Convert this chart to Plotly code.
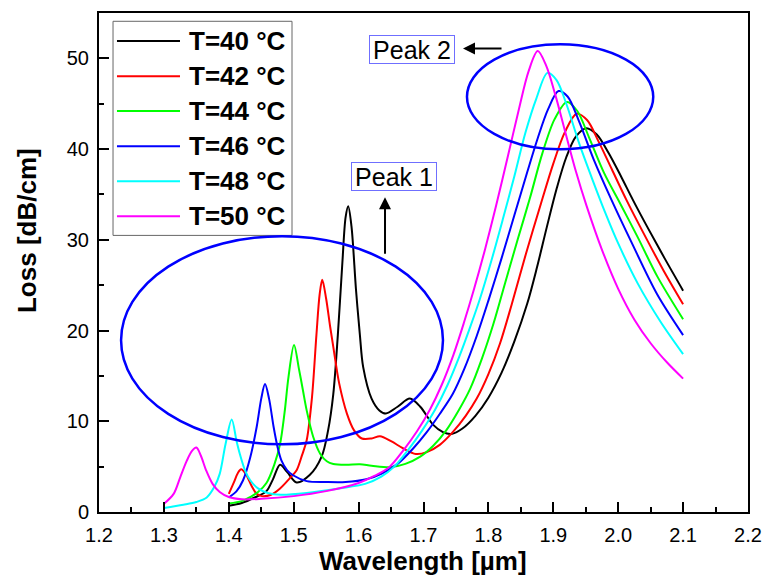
import plotly.graph_objects as go

FONT = "Arial, 'Liberation Sans', Helvetica, sans-serif"

# ---- series: wavelength [um] and loss [dB/cm] for each temperature ----
labels = ["T=40 °C", "T=42 °C", "T=44 °C", "T=46 °C", "T=48 °C", "T=50 °C"]
colors = ["#000000", "#ff0000", "#00ff00", "#0000ff", "#00ffff", "#ff00ff"]

wl_T40 = [1.400, 1.420, 1.440, 1.458, 1.468, 1.479, 1.490, 1.5045, 1.525, 1.543,
          1.553, 1.561, 1.568, 1.575, 1.580, 1.584, 1.589, 1.596, 1.602, 1.607,
          1.620, 1.632, 1.642, 1.660, 1.679, 1.695, 1.715, 1.730, 1.743, 1.760,
          1.780, 1.800, 1.820, 1.840, 1.860, 1.875, 1.890, 1.905, 1.920, 1.935,
          1.951, 1.967, 1.985, 2.005, 2.023, 2.045, 2.072, 2.100]
loss_T40 = [0.7, 1.0, 1.6, 2.3, 3.6, 5.2, 4.4, 3.25, 4.1, 6.1,
            9.0, 13.0, 19.5, 27.5, 32.5, 33.7, 31.5, 24.5, 19.5, 16.0,
            12.5, 11.2, 10.85, 11.6, 12.5, 11.6, 9.6, 8.8, 8.6, 9.2,
            10.6, 12.6, 15.3, 18.8, 23.0, 27.0, 31.4, 35.6, 39.1, 41.4,
            42.3, 41.6, 39.6, 36.9, 34.35, 31.4, 27.9, 24.4]

wl_T42 = [1.400, 1.408, 1.414, 1.419, 1.426, 1.435, 1.443, 1.451, 1.465, 1.479,
          1.495, 1.5045, 1.513, 1.520, 1.528, 1.535, 1.540, 1.544, 1.550, 1.556,
          1.561, 1.570, 1.582, 1.593, 1.605, 1.620, 1.633, 1.650, 1.669, 1.688,
          1.705, 1.725, 1.745, 1.765, 1.782, 1.800, 1.818, 1.836, 1.858, 1.881,
          1.900, 1.918, 1.936, 1.952, 1.970, 1.990, 2.013, 2.040, 2.070, 2.100]
loss_T42 = [2.0, 3.3, 4.3, 4.7, 4.2, 2.9, 2.0, 1.75, 1.9, 2.6,
            3.8, 4.6, 6.3, 7.9, 12.5, 19.5, 24.0, 25.6, 23.5, 20.5,
            18.2, 14.2, 10.85, 9.0, 8.1, 8.1, 8.35, 7.8, 7.0, 6.4,
            6.6, 7.4, 8.8, 10.6, 12.5, 15.2, 18.6, 22.9, 28.5, 34.0,
            38.4, 41.9, 43.9, 43.2, 40.8, 37.8, 34.35, 30.6, 26.6, 22.9]

wl_T44 = [1.400, 1.420, 1.433, 1.445, 1.458, 1.470, 1.479, 1.486, 1.492, 1.5005,
          1.508, 1.514, 1.520, 1.530, 1.541, 1.551, 1.561, 1.580, 1.602, 1.620,
          1.650, 1.672, 1.695, 1.715, 1.735, 1.755, 1.772, 1.790, 1.808, 1.826,
          1.845, 1.864, 1.883, 1.902, 1.921, 1.937, 1.955, 1.978, 2.003, 2.030,
          2.060, 2.100]
loss_T44 = [0.95, 1.2, 1.65, 2.2, 3.2, 5.2, 7.5, 11.0, 14.9, 18.4,
            15.8, 13.5, 11.2, 8.3, 6.4, 5.6, 5.3, 5.2, 5.25, 5.1,
            4.95, 5.3, 6.1, 7.3, 9.0, 11.3, 13.6, 16.9, 20.8, 25.3,
            30.0, 34.6, 39.5, 43.3, 45.2, 44.2, 41.3, 37.4, 34.0, 30.3,
            26.0, 21.25]

wl_T46 = [1.400, 1.412, 1.422, 1.433, 1.443, 1.450, 1.4558, 1.462, 1.469, 1.475,
          1.481, 1.490, 1.499, 1.520, 1.550, 1.580, 1.612, 1.635, 1.660, 1.684,
          1.705, 1.725, 1.745, 1.763, 1.782, 1.800, 1.820, 1.840, 1.860, 1.876,
          1.892, 1.908, 1.922, 1.940, 1.962, 1.990, 2.020, 2.060, 2.100]
loss_T46 = [1.6, 2.3, 3.5, 6.0, 9.4, 12.5, 14.1, 12.5, 9.4, 7.2,
            5.7, 4.6, 4.05, 3.4, 3.3, 3.3, 3.6, 4.2, 5.3, 7.0,
            8.8, 10.8, 13.0, 15.8, 19.4, 23.3, 27.9, 32.7, 37.5, 41.2,
            44.4, 46.4, 45.8, 43.0, 38.9, 34.35, 29.8, 24.0, 19.5]

wl_T48 = [1.300, 1.330, 1.350, 1.366, 1.378, 1.386, 1.395, 1.4045, 1.412, 1.417,
          1.425, 1.433, 1.445, 1.460, 1.480, 1.520, 1.570, 1.610, 1.635, 1.655,
          1.677, 1.698, 1.718, 1.737, 1.755, 1.772, 1.787, 1.805, 1.822, 1.840,
          1.857, 1.874, 1.891, 1.905, 1.920, 1.940, 1.960, 1.980, 2.000, 2.030,
          2.065, 2.100]
loss_T48 = [0.45, 0.8, 1.1, 1.6, 2.8, 4.2, 7.5, 10.2, 7.8, 6.4,
            4.6, 3.5, 2.6, 2.1, 1.9, 2.1, 2.6, 3.1, 3.9, 5.0,
            6.9, 9.0, 11.3, 14.0, 17.1, 20.4, 23.5, 27.8, 32.2, 37.0,
            41.8, 45.6, 48.4, 47.6, 45.0, 40.6, 36.7, 33.0, 29.6, 25.2,
            21.0, 17.4]

wl_T50 = [1.300, 1.315, 1.325, 1.335, 1.343, 1.350, 1.357, 1.365, 1.375, 1.386,
          1.400, 1.420, 1.450, 1.500, 1.550, 1.600, 1.625, 1.648, 1.669, 1.690,
          1.710, 1.728, 1.746, 1.762, 1.778, 1.795, 1.812, 1.830, 1.847, 1.862,
          1.876, 1.889, 1.903, 1.918, 1.935, 1.951, 1.975, 2.000, 2.025, 2.050,
          2.075, 2.100]
loss_T50 = [0.9, 2.0, 3.8, 5.6, 6.7, 7.1, 6.2, 4.6, 3.1, 2.2,
            1.65, 1.4, 1.45, 1.75, 2.3, 3.2, 4.0, 5.0, 6.8, 8.9,
            11.3, 14.0, 17.3, 20.8, 24.6, 29.0, 33.8, 39.2, 44.4, 48.6,
            50.8, 49.2, 46.0, 42.0, 37.5, 33.8, 28.9, 24.6, 21.2, 18.6,
            16.5, 14.7]

wavelengths = [wl_T40, wl_T42, wl_T44, wl_T46, wl_T48, wl_T50]
losses = [loss_T40, loss_T42, loss_T44, loss_T46, loss_T48, loss_T50]

fig = go.Figure()
for wl, loss, name, col in zip(wavelengths, losses, labels, colors):
    fig.add_trace(go.Scatter(
        x=wl, y=loss, name=name, mode="lines",
        line=dict(color=col, width=2, shape="spline", smoothing=0.9),
        showlegend=False,
    ))

# ---- highlight ellipses around the two peak groups (outline only) ----
ellipse_style = dict(type="circle", xref="x", yref="y", opacity=1,
                     fillcolor="rgba(0,0,0,0)", layer="above",
                     line=dict(color="#0000ff", width=2.5))
fig.add_shape(x0=1.234, x1=1.730, y0=7.46, y1=30.4, **ellipse_style)
fig.add_shape(x0=1.767, x1=2.054, y0=39.97, y1=51.56, **ellipse_style)

# ---- boxed labels with arrows ----
box_font = dict(family=FONT, size=25, color="#000000")
fig.add_annotation(x=1.6545, y=36.96, xref="x", yref="y", text="Peak 1",
                   showarrow=False, font=box_font, width=82, height=25,
                   bordercolor="#6f6fff", borderwidth=1, borderpad=1,
                   bgcolor="#ffffff")
fig.add_annotation(x=1.6823, y=51.0, xref="x", yref="y", text="Peak 2",
                   showarrow=False, font=box_font, width=82, height=25,
                   bordercolor="#6f6fff", borderwidth=1, borderpad=1,
                   bgcolor="#ffffff")
fig.add_annotation(x=1.6407, y=34.7, ax=1.6407, ay=28.3, xref="x", yref="y",
                   axref="x", ayref="y", text="", showarrow=True,
                   arrowhead=2, arrowsize=1.2, arrowwidth=2, arrowcolor="#000000")
fig.add_annotation(x=1.7609, y=51.1, ax=1.8225, ay=51.1, xref="x", yref="y",
                   axref="x", ayref="y", text="", showarrow=True,
                   arrowhead=2, arrowsize=1.2, arrowwidth=2, arrowcolor="#000000")

# ---- legend drawn as a framed key ----
fig.add_shape(type="rect", xref="paper", yref="paper",
              x0=0.0216, x1=0.2974, y0=0.5543, y1=0.9834, opacity=1,
              line=dict(color="#666666", width=1), fillcolor="#ffffff", layer="below")
row_y = [0.9439, 0.8732, 0.8036, 0.7329, 0.6627, 0.5926]
for yy, name, col in zip(row_y, labels, colors):
    fig.add_shape(type="line", xref="paper", yref="paper", opacity=1,
                  x0=0.0277, x1=0.1248, y0=yy, y1=yy,
                  line=dict(color=col, width=2))
    fig.add_annotation(x=0.1356, y=yy, xref="paper", yref="paper",
                       text="<b>%s</b>" % name, showarrow=False,
                       xanchor="left", yanchor="middle",
                       font=dict(family=FONT, size=26, color="#000000"))

# ---- axis titles ----
fig.add_annotation(x=0.499, y=-0.098, xref="paper", yref="paper",
                   text="<b>Wavelength [µm]</b>", showarrow=False,
                   xanchor="center", yanchor="middle",
                   font=dict(family=FONT, size=26, color="#000000"))
fig.add_annotation(x=-0.111, y=0.565, xref="paper", yref="paper",
                   text="<b>Loss [dB/cm]</b>", showarrow=False, textangle=-90,
                   xanchor="center", yanchor="middle",
                   font=dict(family=FONT, size=26, color="#000000"))

axis_common = dict(
    showline=True, linecolor="#000000", linewidth=2, mirror=True,
    ticks="inside", ticklen=10, tickwidth=1.5, tickcolor="#000000",
    showgrid=False, zeroline=False, automargin=False,
    tickfont=dict(family=FONT, size=20, color="#000000"),
)
fig.update_xaxes(range=[1.2, 2.2], dtick=0.1, tick0=1.2, tickformat=".1f",
                 minor=dict(ticks="inside", ticklen=5, dtick=0.05, tickwidth=1.5,
                            tickcolor="#000000", showgrid=False),
                 ticklabelstandoff=4, **axis_common)
fig.update_yaxes(range=[0, 55], dtick=10, tick0=0,
                 minor=dict(ticks="inside", ticklen=5, dtick=5, tickwidth=1.5,
                            tickcolor="#000000", showgrid=False),
                 ticklabelstandoff=4, **axis_common)

fig.update_layout(
    width=763, height=583,
    margin=dict(l=99, r=15, t=13, b=71),
    paper_bgcolor="#ffffff", plot_bgcolor="#ffffff",
    font=dict(family=FONT, color="#000000"),
)

fig.write_html("out.html")
